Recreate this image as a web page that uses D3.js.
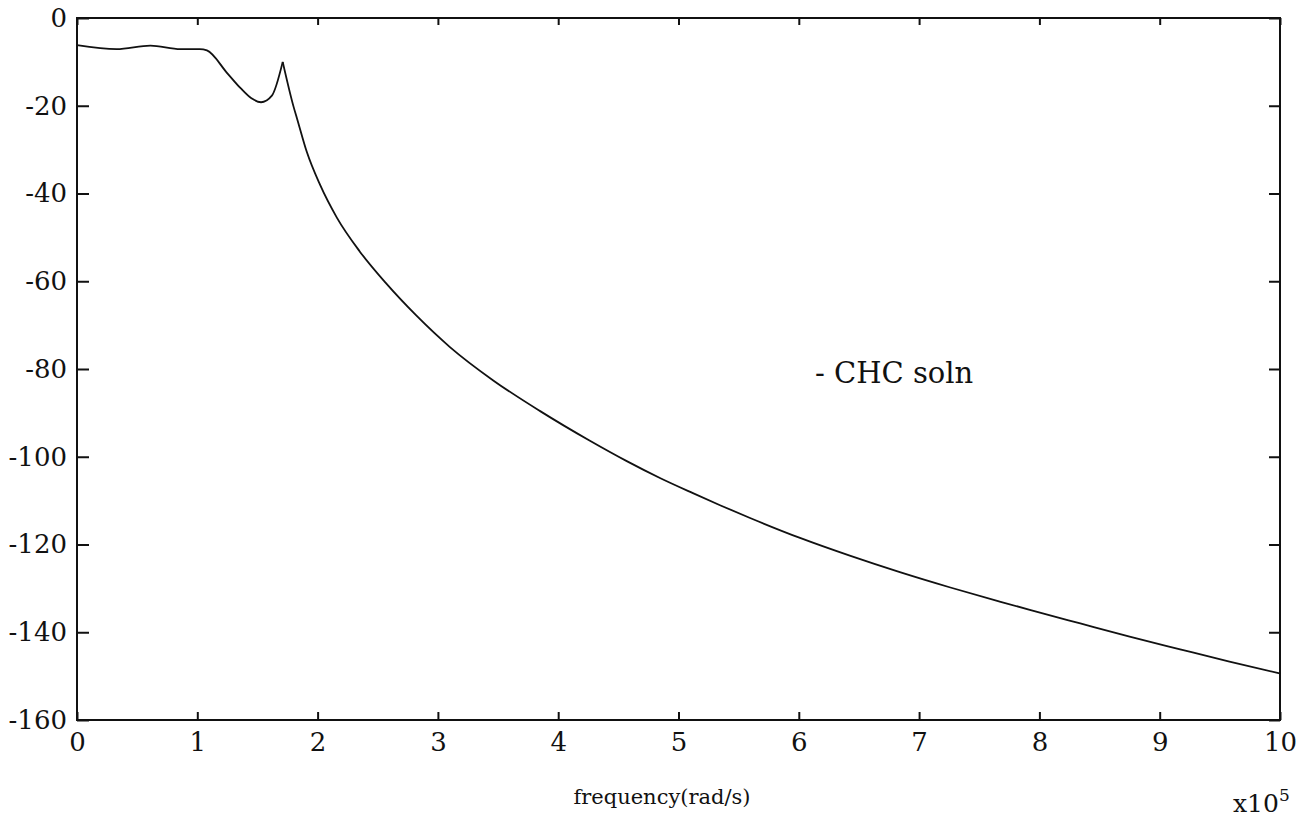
<!DOCTYPE html>
<html>
<head>
<meta charset="utf-8">
<script src="https://cdn.jsdelivr.net/npm/d3@7"></script>
<style>
  html, body { margin: 0; padding: 0; background: #fff; }
  svg { display: block; }
  text { font-family: "DejaVu Serif", serif; fill: #111; }
</style>
</head>
<body>
<svg id="chart" width="1316" height="830"></svg>
<script>
// Frequency response magnitude (dB) vs frequency (x10^5 rad/s)
const freq = [0, 0.33, 0.61, 0.86, 1.02, 1.08, 1.25, 1.36, 1.45, 1.53, 1.62, 1.71,
  1.80, 1.83, 1.91, 2.02, 2.16, 2.35, 2.57, 2.82, 3.10, 3.46, 3.85, 4.26, 4.57,
  4.85, 5.12, 5.35, 5.59, 6.01, 6.43, 6.84, 7.26, 7.67, 7.92, 8.34, 8.75, 9.17,
  9.58, 10.0];
const gainDb = [-6.2, -7.1, -6.3, -7.1, -7.1, -7.4, -12.6, -16.0, -18.3, -19.2, -17.7, -10.0,
  -20.2, -23.0, -30.5, -38.0, -45.5, -53.2, -60.5, -67.8, -75.0, -82.6, -89.6, -96.3, -101.0,
  -104.9, -108.3, -111.1, -113.9, -118.5, -122.6, -126.3, -129.8, -133.0, -134.9, -138.0, -141.0, -143.9,
  -146.7, -149.4];
const peakIndex = 11; // resonance spike at 1.71
const xTicks = [0, 1, 2, 3, 4, 5, 6, 7, 8, 9, 10];
const yTicks = [0, -20, -40, -60, -80, -100, -120, -140, -160];
const xLabel = "frequency(rad/s)";
const legendText = "- CHC soln";

const svg = d3.select("#chart");
const m = { left: 77, right: 1280, top: 18, bottom: 720 };

const x = d3.scaleLinear().domain([0, 10]).range([m.left, m.right]);
const y = d3.scaleLinear().domain([-160, 0]).range([m.bottom, m.top]);

// frame
svg.append("rect")
  .attr("x", m.left).attr("y", m.top)
  .attr("width", m.right - m.left).attr("height", m.bottom - m.top)
  .attr("fill", "none").attr("stroke", "#111").attr("stroke-width", 2);

// inward ticks on all four sides; plain hyphen for negatives
const fmt = d => String(d);
const axB = svg.append("g").attr("transform", `translate(0,${m.bottom})`)
  .call(d3.axisBottom(x).tickValues(xTicks).tickSizeInner(-8).tickSizeOuter(0).tickPadding(13).tickFormat(fmt));
const axT = svg.append("g").attr("transform", `translate(0,${m.top})`)
  .call(d3.axisTop(x).tickValues(xTicks).tickSizeInner(-7).tickSizeOuter(0).tickFormat(""));
const axL = svg.append("g").attr("transform", `translate(${m.left},0)`)
  .call(d3.axisLeft(y).tickValues(yTicks).tickSizeInner(-12).tickSizeOuter(0).tickPadding(10).tickFormat(fmt));
const axR = svg.append("g").attr("transform", `translate(${m.right},0)`)
  .call(d3.axisRight(y).tickValues(yTicks).tickSizeInner(-11).tickSizeOuter(0).tickFormat(""));

[axB, axT, axL, axR].forEach(g => {
  g.select(".domain").remove();
  g.selectAll(".tick line").attr("stroke", "#111").attr("stroke-width", 2);
  g.selectAll("text").attr("font-family", "DejaVu Serif, serif").attr("font-size", 26).attr("fill", "#111");
});
axB.selectAll(".tick text").attr("dy", "0.71em");

// response curve: smooth on each side of the spike, sharp at the spike itself
const pts = freq.map((f, i) => [f, gainDb[i]]);
const line = d3.line().x(d => x(d[0])).y(d => y(d[1])).curve(d3.curveMonotoneX);
[pts.slice(0, peakIndex + 1), pts.slice(peakIndex)].forEach(seg => {
  svg.append("path")
    .datum(seg)
    .attr("d", line)
    .attr("fill", "none")
    .attr("stroke", "#111")
    .attr("stroke-width", 1.8)
    .attr("stroke-linejoin", "round");
});

// annotation
svg.append("text")
  .attr("x", 815).attr("y", 383)
  .attr("font-size", 29)
  .text(legendText);

// axis label and exponent
svg.append("text")
  .attr("x", 662).attr("y", 804)
  .attr("text-anchor", "middle")
  .attr("font-size", 21)
  .text(xLabel);

const ex = svg.append("text").attr("x", 1233).attr("y", 812).attr("font-size", 25);
ex.append("tspan").text("x10");
ex.append("tspan").attr("dy", -11).attr("font-size", 17).text("5");
</script>
</body>
</html>
